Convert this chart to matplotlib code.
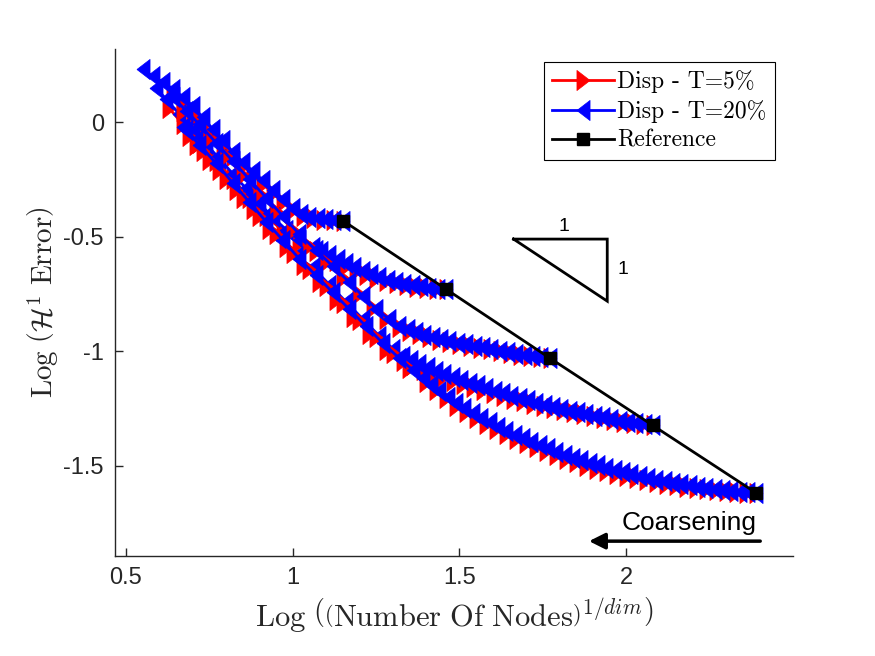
import numpy as np
import matplotlib
matplotlib.use("Agg")
import matplotlib.pyplot as plt

# Coarsening sweeps: log(N^(1/dim)) vs log(H1 error), five starting meshes
# red = threshold 5%, blue = threshold 20%, black = uniform reference meshes

r1_x = [1.15, 1.12, 1.09, 1.06, 1.03, 1.00, 0.97, 0.94, 0.91, 0.88, 0.85, 0.82, 0.79, 0.76, 0.73, 0.70, 0.67, 0.64]
r1_y = [-0.430, -0.429, -0.426, -0.420, -0.410, -0.385, -0.350, -0.310, -0.270, -0.230, -0.190, -0.150, -0.105, -0.060, -0.015, 0.030, 0.070, 0.110]
b1_x = [1.15, 1.125, 1.10, 1.075, 1.05, 1.025, 1.00, 0.97, 0.94, 0.91, 0.88, 0.85, 0.82, 0.79, 0.76, 0.73, 0.70, 0.67, 0.64, 0.61, 0.58, 0.55]
b1_y = [-0.430, -0.428, -0.425, -0.421, -0.415, -0.403, -0.375, -0.335, -0.295, -0.255, -0.215, -0.175, -0.130, -0.080, -0.030, 0.020, 0.070, 0.110, 0.145, 0.175, 0.200, 0.230]

r2_x = [1.46, 1.43, 1.40, 1.37, 1.34, 1.31, 1.28, 1.25, 1.22, 1.19, 1.16, 1.13, 1.10, 1.07, 1.02, 0.97, 0.92, 0.87, 0.82, 0.77, 0.72, 0.67, 0.63]
r2_y = [-0.730, -0.728, -0.724, -0.719, -0.712, -0.704, -0.694, -0.682, -0.667, -0.649, -0.628, -0.605, -0.583, -0.562, -0.530, -0.475, -0.410, -0.330, -0.250, -0.170, -0.090, -0.010, 0.060]
b2_x = [1.46, 1.435, 1.41, 1.385, 1.36, 1.335, 1.31, 1.285, 1.26, 1.235, 1.21, 1.185, 1.16, 1.135, 1.11, 1.085, 1.06,
        1.02, 0.98, 0.94, 0.90, 0.86, 0.82, 0.78, 0.74, 0.70, 0.66, 0.62, 0.59]
b2_y = [-0.730, -0.727, -0.723, -0.718, -0.712, -0.705, -0.697, -0.688, -0.677, -0.664, -0.650, -0.634, -0.617, -0.599, -0.581, -0.563, -0.545,
        -0.515, -0.470, -0.415, -0.355, -0.290, -0.225, -0.160, -0.095, -0.030, 0.035, 0.100, 0.150]

r3_x = [1.77, 1.74, 1.71, 1.68, 1.65, 1.62, 1.59, 1.56, 1.53, 1.50, 1.47, 1.44, 1.41, 1.38, 1.35, 1.32,
        1.28, 1.24, 1.20, 1.15, 1.10, 1.05, 1.00, 0.95, 0.90, 0.85, 0.80, 0.75, 0.70, 0.67]
r3_y = [-1.030, -1.027, -1.022, -1.016, -1.009, -1.001, -0.993, -0.985, -0.977, -0.969, -0.961, -0.951, -0.940, -0.927, -0.912, -0.895,
        -0.860, -0.810, -0.750, -0.680, -0.610, -0.540, -0.470, -0.390, -0.310, -0.230, -0.150, -0.070, 0.010, 0.050]
b3_x = [1.77, 1.745, 1.72, 1.695, 1.67, 1.645, 1.62, 1.595, 1.57, 1.545, 1.52, 1.495, 1.47, 1.445, 1.42, 1.395, 1.37, 1.345, 1.32,
        1.29, 1.25, 1.21, 1.17, 1.12, 1.07, 1.02, 0.97, 0.92, 0.87, 0.82, 0.77, 0.72, 0.68, 0.64]
b3_y = [-1.030, -1.027, -1.023, -1.018, -1.012, -1.005, -0.998, -0.991, -0.984, -0.977, -0.970, -0.963, -0.955, -0.947, -0.938, -0.928, -0.917, -0.904, -0.889,
        -0.862, -0.815, -0.760, -0.700, -0.630, -0.560, -0.490, -0.410, -0.330, -0.250, -0.170, -0.090, -0.010, 0.050, 0.110]

r4_x = [2.08, 2.05, 2.02, 1.99, 1.96, 1.93, 1.90, 1.87, 1.84, 1.81, 1.78, 1.75, 1.72, 1.69, 1.66, 1.63, 1.60, 1.57, 1.54, 1.51,
        1.48, 1.45, 1.42, 1.39, 1.36, 1.33, 1.28, 1.23, 1.18, 1.13, 1.08, 1.03, 0.98, 0.93, 0.88, 0.83, 0.78, 0.73, 0.69]
r4_y = [-1.325, -1.320, -1.314, -1.308, -1.301, -1.293, -1.285, -1.277, -1.268, -1.259, -1.250, -1.240, -1.230, -1.219, -1.208, -1.196, -1.184, -1.171, -1.158, -1.144,
        -1.130, -1.115, -1.099, -1.082, -1.063, -1.042, -0.995, -0.925, -0.850, -0.775, -0.700, -0.625, -0.545, -0.465, -0.380, -0.295, -0.210, -0.125, -0.060]
b4_x = [2.08, 2.055, 2.03, 2.005, 1.98, 1.955, 1.93, 1.905, 1.88, 1.855, 1.83, 1.805, 1.78, 1.755, 1.73, 1.705, 1.68, 1.655, 1.63, 1.605,
        1.58, 1.555, 1.53, 1.505, 1.48, 1.455, 1.43, 1.405, 1.38, 1.355, 1.33,
        1.30, 1.26, 1.21, 1.16, 1.11, 1.06, 1.01, 0.96, 0.91, 0.86, 0.81, 0.76, 0.71, 0.67]
b4_y = [-1.325, -1.320, -1.315, -1.310, -1.304, -1.297, -1.290, -1.283, -1.276, -1.268, -1.260, -1.252, -1.243, -1.234, -1.225, -1.215, -1.205, -1.195, -1.184, -1.173,
        -1.162, -1.150, -1.138, -1.126, -1.113, -1.100, -1.086, -1.071, -1.055, -1.038, -1.020,
        -0.990, -0.935, -0.860, -0.785, -0.710, -0.635, -0.585, -0.505, -0.420, -0.335, -0.250, -0.165, -0.080, -0.020]

r5_x = [2.39, 2.36, 2.33, 2.30, 2.27, 2.24, 2.21, 2.18, 2.15, 2.12, 2.09, 2.06, 2.03, 2.00, 1.97, 1.94, 1.91, 1.88, 1.85, 1.82,
        1.79, 1.76, 1.73, 1.70, 1.67, 1.64, 1.61, 1.58, 1.55, 1.52, 1.49, 1.46, 1.43, 1.40,
        1.35, 1.30, 1.25, 1.20, 1.15, 1.10, 1.05, 1.00, 0.95, 0.90, 0.85, 0.80, 0.75, 0.71]
r5_y = [-1.620, -1.618, -1.615, -1.612, -1.608, -1.603, -1.598, -1.592, -1.586, -1.579, -1.572, -1.564, -1.555, -1.546, -1.536, -1.525, -1.513, -1.500, -1.486, -1.471,
        -1.455, -1.438, -1.421, -1.403, -1.384, -1.363, -1.341, -1.318, -1.293, -1.266, -1.238, -1.206, -1.172, -1.135,
        -1.075, -1.010, -0.940, -0.865, -0.790, -0.715, -0.640, -0.570, -0.490, -0.410, -0.330, -0.250, -0.165, -0.100]
b5_x = [2.39, 2.365, 2.34, 2.315, 2.29, 2.265, 2.24, 2.215, 2.19, 2.165, 2.14, 2.115, 2.09, 2.065, 2.04, 2.015, 1.99, 1.965, 1.94, 1.915,
        1.89, 1.865, 1.84, 1.815, 1.79, 1.765, 1.74, 1.715, 1.69, 1.665, 1.64, 1.615, 1.59, 1.565, 1.54, 1.515, 1.49, 1.465, 1.44, 1.415, 1.39,
        1.36, 1.32, 1.27, 1.22, 1.17, 1.12, 1.07, 1.02, 0.97, 0.92, 0.87, 0.82, 0.77, 0.72, 0.68]
b5_y = [-1.620, -1.617, -1.614, -1.611, -1.607, -1.603, -1.598, -1.593, -1.587, -1.581, -1.575, -1.568, -1.561, -1.554, -1.546, -1.538, -1.529, -1.520, -1.510, -1.499,
        -1.488, -1.477, -1.465, -1.452, -1.439, -1.425, -1.411, -1.396, -1.381, -1.365, -1.348, -1.330, -1.311, -1.291, -1.270, -1.248, -1.225, -1.200, -1.174, -1.147, -1.119,
        -1.083, -1.032, -0.965, -0.892, -0.818, -0.744, -0.670, -0.598, -0.515, -0.435, -0.350, -0.265, -0.180, -0.100, -0.035]

ref_x = [1.15, 1.46, 1.77, 2.08, 2.39]
ref_y = [-0.43, -0.73, -1.03, -1.325, -1.62]

red_runs = [(r1_x, r1_y), (r2_x, r2_y), (r3_x, r3_y), (r4_x, r4_y), (r5_x, r5_y)]
blue_runs = [(b1_x, b1_y), (b2_x, b2_y), (b3_x, b3_y), (b4_x, b4_y), (b5_x, b5_y)]

# slope triangle (data coords)
tri_x = [1.662, 1.943, 1.943, 1.662]
tri_y = [-0.511, -0.511, -0.782, -0.511]

plt.rcParams['font.family'] = ['Liberation Sans', 'DejaVu Sans']
plt.rcParams['mathtext.fontset'] = 'cm'
plt.rcParams['axes.unicode_minus'] = False

# matlab-ish triangles: a bit narrow along the pointing direction
tri_right = [(0.65, 0), (-0.65, 1), (-0.65, -1), (0.65, 0)]
tri_left = [(-0.65, 0), (0.65, 1), (0.65, -1), (-0.65, 0)]

fig = plt.figure(figsize=(8.75, 6.56), dpi=100)
ax = fig.add_axes([0.1314, 0.1524, 0.7749, 0.7729])

dark = (0.15, 0.15, 0.15)

for i in range(5):
    rx, ry = red_runs[i]
    bx, by = blue_runs[i]
    ax.plot(rx, ry, '-', color='red', lw=2, marker=tri_right, ms=14.5, mfc='red', mec='red', mew=0.5,
            label='Disp - T=5%' if i == 0 else None)
    ax.plot(bx, by, '-', color='blue', lw=2, marker=tri_left, ms=14.5, mfc='blue', mec='blue', mew=0.5,
            label='Disp - T=20%' if i == 0 else None)

ax.plot(ref_x, ref_y, '-', color='black', lw=2, marker='s', ms=9, mfc='black', mec='black',
        label='Reference')

ax.plot(tri_x, tri_y, color='black', lw=2, solid_joinstyle='miter')
ax.text(1.813, -0.457, '1', fontsize=14, ha='center', va='center')
ax.text(1.99, -0.646, '1', fontsize=14, ha='center', va='center')

ax.annotate('', xy=(1.880, -1.83), xytext=(2.41, -1.83),
            arrowprops=dict(arrowstyle='-|>', color='black', lw=2.5, mutation_scale=24))
ax.text(2.19, -1.751, 'Coarsening', fontsize=19, ha='center', va='center')

ax.set_xlim(0.467, 2.50)
ax.set_ylim(-1.895, 0.319)
ax.set_xticks([0.5, 1, 1.5, 2])
ax.set_xticklabels(['0.5', '1', '1.5', '2'])
ax.set_yticks([-1.5, -1, -0.5, 0])
ax.set_yticklabels(['-1.5', '-1', '-0.5', '0'])
ax.tick_params(direction='in', length=6, width=1, labelsize=17, colors=dark, pad=8)

for s in ['top', 'right']:
    ax.spines[s].set_visible(False)
for s in ['left', 'bottom']:
    ax.spines[s].set_color(dark)
    ax.spines[s].set_linewidth(1)

ax.set_xlabel(r'$\mathrm{Log}\ \left(\left(\mathrm{Number\ Of\ Nodes}\right)^{1/dim}\right)$',
              fontsize=22, color=dark, labelpad=4)
ax.set_ylabel(r'$\mathrm{Log}\ \left(\mathcal{H}^1\ \mathrm{Error}\right)$',
              fontsize=21, color=dark, labelpad=2)

leg = ax.legend(loc='upper right', bbox_to_anchor=(0.973, 0.975), prop={'family': 'cmr10', 'size': 17},
                fancybox=False, framealpha=1, edgecolor='black', handlelength=2.6,
                borderpad=0.35, labelspacing=0.3, handletextpad=0.15, borderaxespad=0.0)
leg.get_frame().set_linewidth(0.8)

fig.savefig('out.png', dpi=100)
